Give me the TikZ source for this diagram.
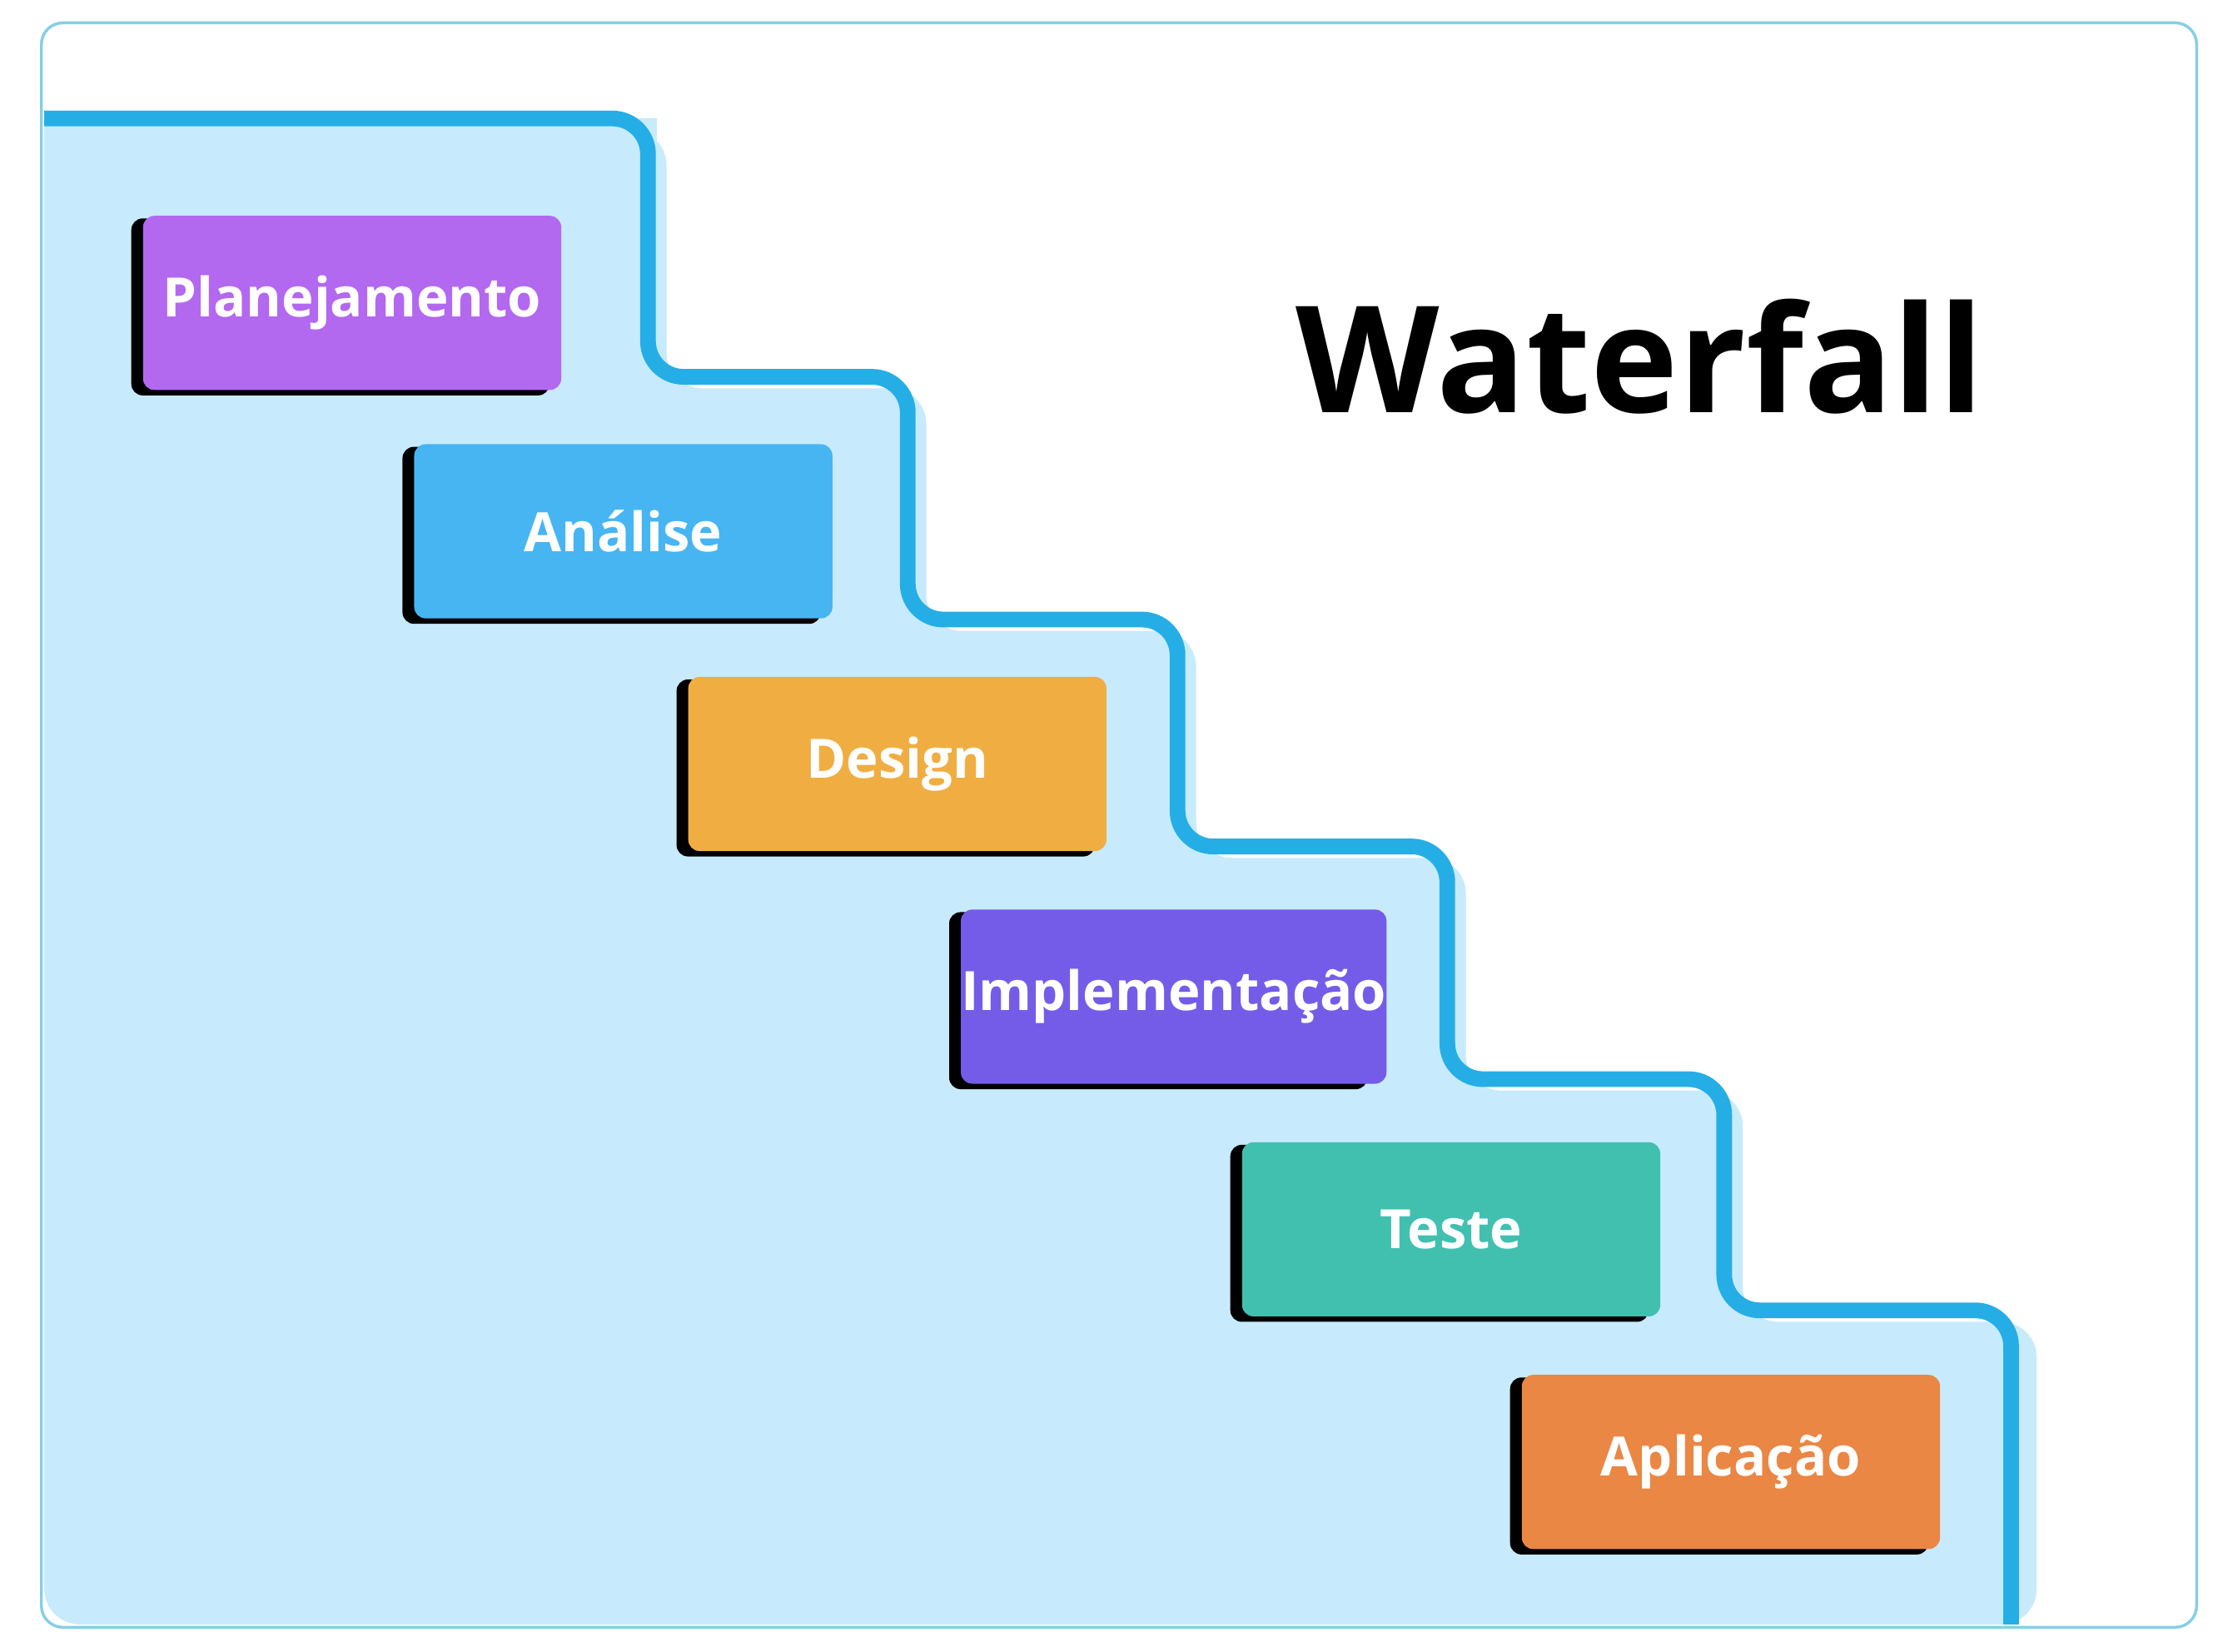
\documentclass[tikz,border=0pt]{standalone}
\usepackage{fontspec}
\setmainfont{Open Sans}
\begin{document}
\begin{tikzpicture}[x=1pt,y=-1pt,
  stage/.style={rounded corners=8pt,minimum width=293pt,minimum height=122pt,inner sep=0pt,text=white,font=\fontsize{38}{40}\selectfont\bfseries},
  shadowbox/.style={rounded corners=8pt,fill=black}]
\definecolor{bgb}{HTML}{C7EBFC}
\definecolor{lineb}{HTML}{25AEE6}
\definecolor{frameb}{HTML}{84CFE6}
\useasboundingbox (0,0) rectangle (1568,1157);
\fill[white] (0,0) rectangle (1568,1157);
% fill region
\fill[bgb,rounded corners=25pt] (31,83) -- (467,91) -- (467,272) -- (649,272) -- (649,442) -- (838,442) -- (838,601) -- (1027,601) -- (1027,764) -- (1221,764) -- (1221,926) -- (1427,926) -- (1427,1138) -- (31,1138) -- cycle;
\fill[bgb] (31,83) rectangle (440,100);
\fill[bgb] (31,83) rectangle (460,110);
% stair line
\draw[lineb,line width=11pt,rounded corners=25pt] (31,83) -- (454,83) -- (454,264) -- (636,264) -- (636,434) -- (825,434) -- (825,593) -- (1014,593) -- (1014,756) -- (1208,756) -- (1208,918) -- (1409,918) -- (1409,1138);
% frame
\draw[frameb,line width=2pt,rounded corners=15pt] (29,16) rectangle (1539,1140);
% boxes
\foreach \n/\x/\y/\c/\t in {p/100/151/B368F0/Planejamento,a/290/311/47B5F2/Análise,d/482/474/F0AE42/Design,i/673/637/755CE8/Implementação,t/870/800/41C0B0/Teste,ap/1066/963/EA8744/Aplicação}{
  \fill[shadowbox] (\x-8,\y+2) rectangle (\x+285,\y+126);
  \definecolor{cc}{HTML}{\c}
  \node[stage,fill=cc,anchor=north west] (\n) at (\x,\y) {\t};
}
\node[font=\fontsize{104}{110}\selectfont\bfseries,anchor=center] (title) at (1149,250) {Waterfall};
\end{tikzpicture}
\end{document}
